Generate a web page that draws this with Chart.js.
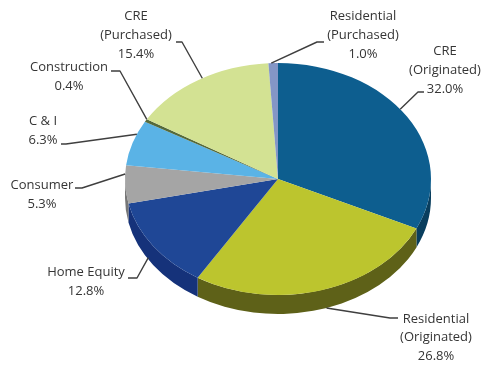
<!DOCTYPE html>
<html>
<head>
<meta charset="utf-8">
<script src="https://cdn.jsdelivr.net/npm/chart.js@4.4.1/dist/chart.umd.min.js"></script>
<style>
  html, body { margin: 0; padding: 0; background: #ffffff; }
  #wrap { width: 486px; height: 368px; }
</style>
</head>
<body>
<div id="wrap"><canvas id="loanMix" width="486" height="368"></canvas></div>
<script>
// Loan portfolio composition (% of total)
const categories = [
  'CRE\n(Originated)',
  'Residential\n(Originated)',
  'Home Equity',
  'Consumer',
  'C & I',
  'Construction',
  'CRE\n(Purchased)',
  'Residential\n(Purchased)'
];
const shares = [32.0, 26.8, 12.8, 5.3, 6.3, 0.4, 15.4, 1.0];

// Slice colours: top face and the darker rim
const topColors  = ['#0d5e8f', '#bcc52e', '#1f4796', '#a5a5a5', '#5ab3e6', '#556a3a', '#d3e293', '#8496c6'];
const sideColors = ['#093e5e', '#5e6118', '#15327a', '#767676', '#3a7fa8', '#3d4b28', '#97a35f', '#5b6a92'];

// Tilt of the pie and thickness of the rim
const TILT = 0.758;
const DEPTH = 19;

// Callout layout: text centre, first line y, line step, leader knee points,
// and where the leader meets the slice (fraction along the slice, drop onto rim)
const callouts = [
  { x: 445, y: 51,  step: 19, knee: [[424, 92], [418, 92]],   frac: 0.46, rf: 1.0, drop: 0 },
  { x: 436, y: 319, step: 18.5, knee: [[398, 318], [390, 318]], frac: 0.48, rf: 1.0, drop: 1 },
  { x: 86,  y: 272, step: 19, knee: [[128, 278], [137, 278]], frac: 0.57, rf: 1.0, drop: 0.9 },
  { x: 42,  y: 185, step: 19, knee: [[75, 188], [82, 188]],   frac: 0.77, rf: 1.0, drop: 0 },
  { x: 43,  y: 121, step: 19, knee: [[61, 144], [66, 144]],   frac: 0.70, rf: 1.0, drop: 0 },
  { x: 69,  y: 67,  step: 19, knee: [[111, 71], [120, 71]],   frac: 1.0,  rf: 1.0, drop: 0 },
  { x: 136, y: 16,  step: 19, knee: [[176, 42], [182, 42]],   frac: 0.53, rf: 1.0, drop: 0 },
  { x: 363, y: 16,  step: 19, knee: [[324, 42], [317, 42]],   frac: 0.3,  rf: 1.0, drop: 0 }
];

const pie3d = {
  id: 'pie3d',
  beforeDatasetsDraw(chart) {
    const ctx = chart.ctx;
    const arcs = chart.getDatasetMeta(0).data;
    const { x: cx, y: cy, outerRadius: r } = arcs[0];
    const ry = r * TILT;
    // front rim of every slice facing the viewer (canvas angles 0..PI)
    ctx.save();
    arcs.forEach((a, i) => {
      const s = Math.max(a.startAngle, 0);
      const e = Math.min(a.endAngle, Math.PI);
      if (e <= s) return;
      ctx.beginPath();
      ctx.ellipse(cx, cy, r, ry, 0, s, e, false);
      ctx.ellipse(cx, cy + DEPTH, r, ry, 0, e, s, true);
      ctx.closePath();
      ctx.fillStyle = sideColors[i];
      ctx.fill();
    });
    ctx.restore();
    // squash the top face into an ellipse
    ctx.save();
    ctx.translate(0, cy);
    ctx.scale(1, TILT);
    ctx.translate(0, -cy);
  },
  afterDatasetsDraw(chart) {
    const ctx = chart.ctx;
    ctx.restore();
    const arcs = chart.getDatasetMeta(0).data;
    const { x: cx, y: cy, outerRadius: r } = arcs[0];
    const ry = r * TILT;
    ctx.save();
    ctx.font = '13px "Open Sans", sans-serif';
    ctx.fillStyle = '#353535';
    ctx.textAlign = 'center';
    ctx.textBaseline = 'middle';
    ctx.strokeStyle = '#3f3f3f';
    ctx.lineWidth = 1.4;
    ctx.lineJoin = 'round';
    callouts.forEach((c, i) => {
      const a = arcs[i];
      const t = a.startAngle + c.frac * (a.endAngle - a.startAngle);
      const px = cx + r * c.rf * Math.cos(t);
      const py = cy + ry * c.rf * Math.sin(t) + c.drop * DEPTH;
      ctx.beginPath();
      ctx.moveTo(c.knee[0][0], c.knee[0][1]);
      ctx.lineTo(c.knee[1][0], c.knee[1][1]);
      ctx.lineTo(px, py);
      ctx.stroke();
      const lines = categories[i].split('\n').concat(shares[i].toFixed(1) + '%');
      lines.forEach((ln, k) => ctx.fillText(ln, c.x, c.y + k * c.step));
    });
    ctx.restore();
  }
};

new Chart(document.getElementById('loanMix'), {
  type: 'pie',
  data: {
    labels: categories,
    datasets: [{
      data: shares,
      backgroundColor: topColors,
      borderWidth: 0,
      offset: 0,
      hoverOffset: 0,
      clip: false
    }]
  },
  options: {
    responsive: false,
    animation: false,
    events: [],
    radius: 153,
    layout: { padding: { left: 125, right: 55, top: 26, bottom: 36 } },
    plugins: { legend: { display: false }, tooltip: { enabled: false } }
  },
  plugins: [pie3d]
});
</script>
</body>
</html>
